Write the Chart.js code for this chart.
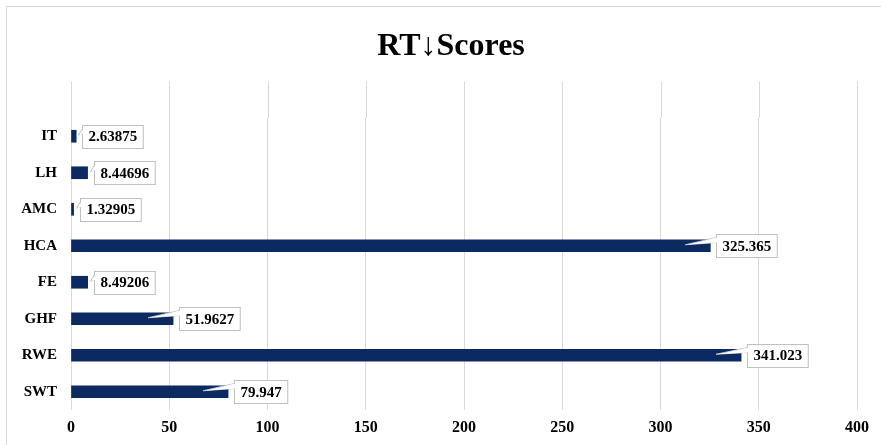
<!DOCTYPE html>
<html>
<head>
<meta charset="utf-8">
<script src="https://cdn.jsdelivr.net/npm/chart.js@4.4.1/dist/chart.umd.min.js"></script>
<style>
  html, body { margin: 0; padding: 0; background: #fff; }
  #wrap { width: 881px; height: 445px; }
</style>
</head>
<body>
<div id="wrap"><canvas id="rt-chart"></canvas></div>
<script>
// chart data
const methods = ['IT', 'LH', 'AMC', 'HCA', 'FE', 'GHF', 'RWE', 'SWT'];
const rtScores = [2.63875, 8.44696, 1.32905, 325.365, 8.49206, 51.9627, 341.023, 79.947];
const xTicks = [0, 50, 100, 150, 200, 250, 300, 350, 400];

const serif = '"Liberation Serif", "Times New Roman", serif';
const barColor = '#0c2a62';
const gridColor = '#d9d9d9';

// frame, title and grid lines running up above the first row
const decorPlugin = {
    id: 'decor',
    beforeDraw(chart) {
        const ctx = chart.ctx;
        const area = chart.chartArea;
        const x = chart.scales.x;
        const y = chart.scales.y;
        ctx.save();
        ctx.strokeStyle = gridColor;
        ctx.lineWidth = 1;
        ctx.strokeRect(6.5, 6.5, chart.width + 20, chart.height + 20);

        const step = y.getPixelForValue(1) - y.getPixelForValue(0);
        xTicks.forEach(v => {
            const px = Math.round(x.getPixelForValue(v)) + 0.5;
            ctx.beginPath();
            ctx.moveTo(px, area.top - step);
            ctx.lineTo(px, area.top);
            ctx.stroke();
        });

        ctx.fillStyle = '#000';
        ctx.font = 'bold 32px ' + serif;
        ctx.textAlign = 'center';
        ctx.textBaseline = 'alphabetic';
        ctx.fillText('RT\u2193Scores', 451, 55);
        ctx.restore();
    }
};

// callout labels next to each bar
const calloutPlugin = {
    id: 'callouts',
    afterDatasetsDraw(chart) {
        const ctx = chart.ctx;
        const meta = chart.getDatasetMeta(0);
        const x0 = chart.scales.x.getPixelForValue(0);
        ctx.save();
        ctx.font = 'bold 15px ' + serif;
        ctx.textBaseline = 'middle';
        ctx.textAlign = 'left';
        meta.data.forEach((bar, i) => {
            const text = String(rtScores[i]);
            const end = bar.x;
            const cy = bar.y;
            const w = ctx.measureText(text).width + 12;
            const h = 23;
            const left = Math.round(end + 6) + 0.5;
            const top = Math.round(cy - h / 2) + 0.5;
            const len = end - x0;
            const tipX = len > 40 ? end - 25 : left - 4;
            const tipY = cy - 1;

            ctx.fillStyle = '#fff';
            ctx.strokeStyle = '#bfbfbf';
            ctx.lineWidth = 1;
            ctx.fillRect(left, top, w, h);
            ctx.strokeRect(left, top, w, h);

            // wedge
            ctx.beginPath();
            ctx.moveTo(left, top + 3);
            ctx.lineTo(tipX, tipY);
            ctx.lineTo(left, top + 8);
            ctx.stroke();
            ctx.beginPath();
            ctx.moveTo(left + 1, top + 3);
            ctx.lineTo(tipX + 1, tipY);
            ctx.lineTo(left + 1, top + 8);
            ctx.closePath();
            ctx.fill();

            ctx.fillStyle = '#000';
            ctx.fillText(text, left + 6, cy + 1);
        });
        ctx.restore();
    }
};

new Chart(document.getElementById('rt-chart'), {
    type: 'bar',
    data: {
        labels: methods,
        datasets: [{
            data: rtScores,
            backgroundColor: barColor,
            borderWidth: 0,
            barThickness: 12
        }]
    },
    options: {
        indexAxis: 'y',
        responsive: true,
        maintainAspectRatio: false,
        animation: false,
        layout: { padding: { top: 118, right: 24, left: 0, bottom: 0 } },
        plugins: {
            legend: { display: false },
            tooltip: { enabled: false },
            title: { display: false }
        },
        scales: {
            x: {
                min: 0,
                max: 400,
                afterBuildTicks(scale) {
                    scale.ticks = xTicks.map(v => ({ value: v }));
                },
                afterFit(scale) { scale.height = 35; },
                grid: { color: gridColor, drawTicks: false },
                border: { display: false },
                ticks: {
                    padding: 8,
                    color: '#000',
                    font: { family: serif, size: 16, weight: 'bold' }
                }
            },
            y: {
                afterFit(scale) { scale.width = 71; },
                grid: { display: false, drawTicks: false },
                border: { display: false },
                ticks: {
                    padding: 14,
                    color: '#000',
                    font: { family: serif, size: 15, weight: 'bold' }
                }
            }
        }
    },
    plugins: [decorPlugin, calloutPlugin]
});
</script>
</body>
</html>
